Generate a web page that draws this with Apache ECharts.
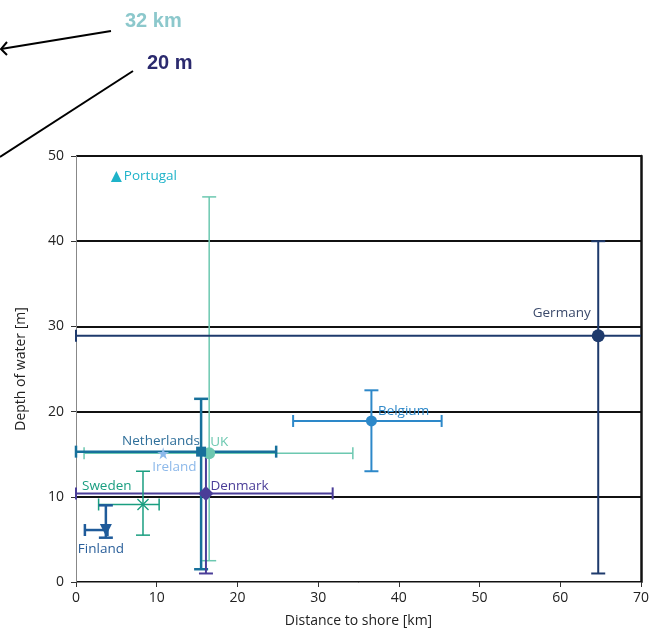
<!DOCTYPE html>
<html><head><meta charset="utf-8">
<script src="https://cdn.jsdelivr.net/npm/echarts@6/dist/echarts.min.js"></script>
<style>html,body{margin:0;padding:0;background:#fff}#c{width:653px;height:639px}</style>
</head><body><div id="c"></div>
<script>
// ---- data ----
const countries = ['Portugal','UK','Netherlands','Ireland','Denmark','Sweden','Finland','Belgium','Germany'];
const distKm    = [5.0, 16.5, 15.5, 10.8, 16.1, 8.3, 3.7, 36.6, 64.7];
const depthM    = [47.6, 15.1, 15.3, 15.1, 10.4, 9.1, 6.1, 18.9, 28.9];
const distLow   = [null, 1.0, 0.0, null, 0.0, 2.8, 1.1, 26.9, 0.0];
const distHigh  = [null, 34.3, 24.8, null, 31.8, 10.3, 3.9, 45.3, 70.0];
const depthLow  = [null, 2.5, 1.5, null, 1.0, 5.5, 5.2, 13.0, 1.0];
const depthHigh = [null, 45.2, 21.5, null, 15.0, 13.0, 9.0, 22.5, 40.0];
const xTicks = [0,10,20,30,40,50,60,70];
const yTicks = [0,10,20,30,40,50];
const annotKm = '32 km';
const annotM = '20 m';

// ---- styles ----
const colors = ['#1fb3c9','#6cc8b0','#17709b','#8db9ea','#4a3d98','#1a9e80','#1f5b9a','#2d88c9','#1e3a6c'];
const labelColors = ['#1fb3c9','#6cc8b0','#2f6f9a','#8db9ea','#4a3d98','#1a9e80','#2a5f9a','#2d88c9','#3b4a6b'];
const lineW = [1.5, 1.5, 2.5, 1.5, 2, 1.5, 2.5, 2, 2];
const symbols = ['triangle','circle','rect','path://M50,0 L61,35 L98,35 L68,57 L79,91 L50,70 L21,91 L32,57 L2,35 L39,35 Z','diamond',
  'path://M0,8 L8,0 L50,42 L92,0 L100,8 L58,50 L100,92 L92,100 L50,58 L8,100 L0,92 L42,50 Z','triangle','circle','circle'];
const symSizes = [11, 12, 10, 12, 15, 12, 12, 11, 13];
const symRot = [0,0,0,0,0,0,180,0,0];
const labelPos = ['right',[7,-12],[-74,-12],[-5,13],[12,-7],[-55,-19],[-22,18],[12,-11],[-59,-23]];
const FONT = '"Open Sans", "DejaVu Sans", sans-serif';

const errData = [];
countries.forEach((c,i)=>{
  if (distLow[i] !== null) errData.push([distKm[i], depthM[i], distLow[i], distHigh[i], depthLow[i], depthHigh[i], i]);
});
// draw UK first so it sits behind
errData.sort((a,b)=> (a[6]===1?-1:0) - (b[6]===1?-1:0));

function renderErr(params, api){
  const x = api.value(0), y = api.value(1);
  const xl = api.value(2), xh = api.value(3), yl = api.value(4), yh = api.value(5);
  const i = api.value(6);
  const pL = api.coord([xl, y]), pR = api.coord([xh, y]);
  const pB = api.coord([x, yl]), pT = api.coord([x, yh]);
  const style = {stroke: colors[i], lineWidth: lineW[i], fill: null};
  const capH = 6, capV = 7;
  const shapes = [
    [pL, pR], [[pL[0], pL[1]-capH],[pL[0], pL[1]+capH]],
    [pB, pT], [[pB[0]-capV, pB[1]],[pB[0]+capV, pB[1]]], [[pT[0]-capV, pT[1]],[pT[0]+capV, pT[1]]]
  ];
  if (xh < 70) shapes.push([[pR[0], pR[1]-capH],[pR[0], pR[1]+capH]]);
  return {type:'group', children: shapes.map(s=>({type:'line', shape:{x1:s[0][0],y1:s[0][1],x2:s[1][0],y2:s[1][1]}, style}))};
}

const series = [{
  type:'custom', renderItem: renderErr, data: errData, encode:{x:[0,2,3], y:[1,4,5]}, z:2, silent:true
}];
countries.forEach((c,i)=>{
  series.push({
    type:'scatter', name:c, data:[[distKm[i], depthM[i]]], symbol:symbols[i], symbolSize:symSizes[i], symbolRotate:symRot[i],
    itemStyle:{color:colors[i], opacity:1}, z:5,
    label:{show:true, formatter:c, position:labelPos[i], color:labelColors[i], fontSize:13.5, fontFamily:FONT, distance:2}
  });
});

const chart = echarts.init(document.getElementById('c'), null, {renderer:'canvas'});
chart.setOption({
  animation:false,
  backgroundColor:'#fff',
  grid:{left:76, right:12, top:156, bottom:57},
  xAxis:{type:'value', min:xTicks[0], max:xTicks[xTicks.length-1], interval:10,
    name:'Distance to shore [km]', nameLocation:'middle', nameGap:32,
    nameTextStyle:{fontFamily:FONT, fontSize:14, color:'#222'},
    axisLine:{lineStyle:{color:'#888', width:1}}, axisTick:{show:true, length:5, lineStyle:{color:'#333'}},
    axisLabel:{fontFamily:FONT, fontSize:14, color:'#222', margin:9}, splitLine:{show:false}},
  yAxis:[{type:'value', min:yTicks[0], max:yTicks[yTicks.length-1], interval:10,
    name:'Depth of water [m]', nameLocation:'middle', nameGap:48,
    nameTextStyle:{fontFamily:FONT, fontSize:14, color:'#222'},
    axisLine:{show:true, lineStyle:{color:'#888', width:1}}, axisTick:{show:true, length:5, lineStyle:{color:'#333'}},
    axisLabel:{fontFamily:FONT, fontSize:14, color:'#222', margin:12},
    splitLine:{show:true, lineStyle:{color:'#111', width:2}}},
   {type:'value', position:'right', min:0, max:50, interval:10, axisLine:{show:true, lineStyle:{color:'#111', width:2.5}},
    axisTick:{show:false}, axisLabel:{show:false}, splitLine:{show:false}}],
  series: series,
  graphic:[
    {type:'text', left:125, top:11, style:{text:annotKm, fontFamily:'"Liberation Sans", Arial, sans-serif', fontWeight:'bold', fontSize:20, fill:'#8cc8cc'}},
    {type:'text', left:147, top:53, style:{text:annotM, fontFamily:'"Liberation Sans", Arial, sans-serif', fontWeight:'bold', fontSize:20, fill:'#2b2a6e'}},
    {type:'polyline', shape:{points:[[111,31],[1,49]]}, style:{stroke:'#000', lineWidth:2, fill:null}},
    {type:'polyline', shape:{points:[[7,42],[1,49],[7,55]]}, style:{stroke:'#000', lineWidth:2, fill:null}},
    {type:'polyline', shape:{points:[[133,71],[0,157]]}, style:{stroke:'#000', lineWidth:2, fill:null}}
  ]
});
</script></body></html>
